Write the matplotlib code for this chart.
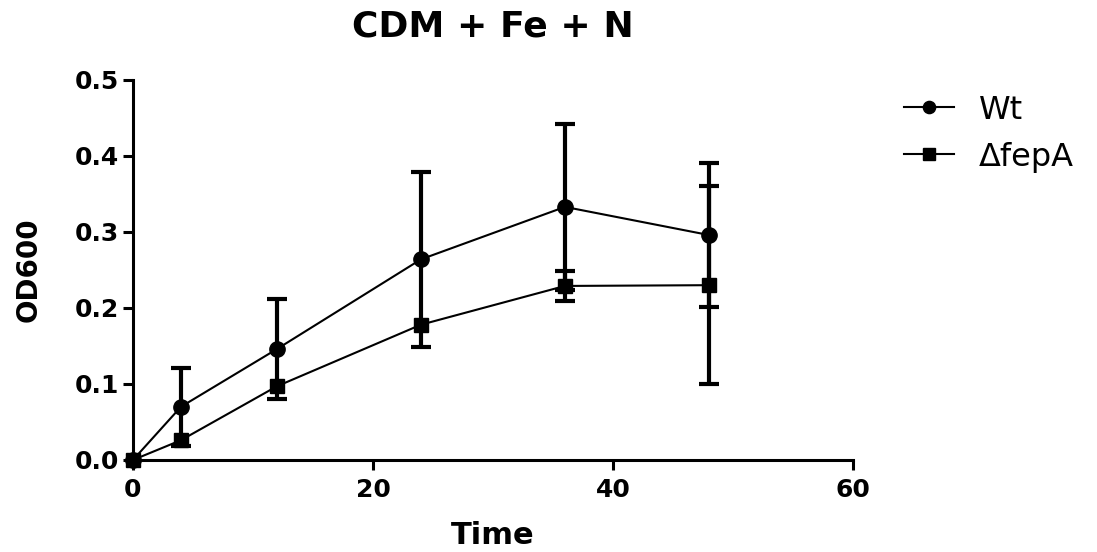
import numpy as np
import matplotlib
matplotlib.use("Agg")
import matplotlib.pyplot as plt

plt.rcParams['font.family'] = ['DejaVu Sans']

# data (SD bars hidden behind markers left as nan)
time = [0, 4, 12, 24, 36, 48]
wt_mean = [0.0, 0.070, 0.146, 0.264, 0.333, 0.296]
wt_sd = [np.nan, 0.051, 0.066, 0.115, 0.109, 0.095]
fepa_mean = [0.0, 0.026, 0.097, 0.178, 0.229, 0.230]
fepa_sd = [np.nan, np.nan, np.nan, np.nan, 0.020, 0.130]

x_ticks = [0, 20, 40, 60]
y_ticks = [0.0, 0.1, 0.2, 0.3, 0.4, 0.5]


fig = plt.figure(figsize=(10.97, 5.52), dpi=100)
ax = fig.add_axes([0.1212, 0.1667, 0.6563, 0.6884])

ax.errorbar(time, wt_mean, yerr=wt_sd, fmt='-o', color='black',
            linewidth=1.5, markersize=11, elinewidth=3, capsize=7.5,
            capthick=3, label='Wt', clip_on=False, zorder=3)
ax.errorbar(time, fepa_mean, yerr=fepa_sd, fmt='-s', color='black',
            linewidth=1.5, markersize=10.5, elinewidth=3, capsize=7.5,
            capthick=3, label='\u0394fepA', clip_on=False, zorder=3)

ax.set_xlim(0, 60)
ax.set_ylim(0, 0.5)
ax.set_xticks(x_ticks)
ax.set_yticks(y_ticks)
ax.set_yticklabels(['%.1f' % v for v in y_ticks])

for s in ['top', 'right']:
    ax.spines[s].set_visible(False)
for s in ['left', 'bottom']:
    ax.spines[s].set_linewidth(2.2)
ax.tick_params(axis='both', width=2.2, length=7, labelsize=18)
ax.tick_params(axis='y', pad=3)
ax.tick_params(axis='x', pad=6)
for lab in ax.get_xticklabels() + ax.get_yticklabels():
    lab.set_fontweight('bold')

ax.set_xlabel('Time', fontsize=22, fontweight='bold', labelpad=14)
ax.set_ylabel('OD600', fontsize=20, fontweight='bold', labelpad=23)
ax.set_title('CDM + Fe + N', fontsize=26, fontweight='bold', pad=31)

handles, labels = ax.get_legend_handles_labels()
handles = [h[0] for h in handles]
ax.legend(handles, labels, loc='upper left', bbox_to_anchor=(1.031, 1.037),
          frameon=False, fontsize=23, handlelength=1.55, labelspacing=0.5,
          handletextpad=0.8, markerscale=0.8)

fig.savefig('out.png', dpi=100)
